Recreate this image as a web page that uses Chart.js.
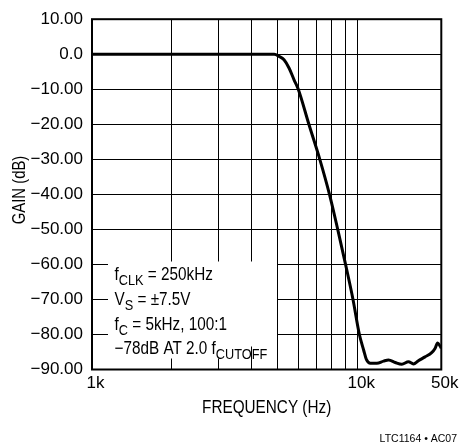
<!DOCTYPE html>
<html>
<head>
<meta charset="utf-8">
<script src="https://cdn.jsdelivr.net/npm/chart.js@4/dist/chart.umd.min.js"></script>
<style>
  html, body { margin: 0; padding: 0; background: #fff; }
  #wrap { width: 459px; height: 448px; position: relative; }
</style>
</head>
<body>
<div id="wrap"><canvas id="c"></canvas></div>
<script>
// ---------- data ----------
const freqHz = [1000, 2540, 4850, 5060, 5280, 5520, 5760, 5975, 6550, 7200, 7830, 8410, 9000, 9600,
  10330, 11220, 11810, 12760, 14470, 16450, 18110, 20590, 23370, 26570, 29240, 32180, 36580, 41520,
  44320, 46580, 48770, 50000];
const gainDb = [0, 0, 0, -0.6, -1.6, -4.0, -7.3, -10, -20, -30, -40, -50, -60, -70,
  -80, -84.5, -87.1, -88.2, -88.2, -87.6, -87.3, -88.0, -88.5, -87.8, -88.4, -87.5, -86.4, -85.2,
  -84.0, -82.4, -83.3, -83.9];

const xTickValues = [1000, 2000, 3000, 4000, 5000, 6000, 7000, 8000, 9000, 10000, 50000];
const xTickLabels = ['1k', '', '', '', '', '', '', '', '', '10k', '50k'];
const yTickValues = [10, 0, -10, -20, -30, -40, -50, -60, -70, -80, -90];
const yTickLabels = ['10.00', '0.0', '\u221210.00', '\u221220.00', '\u221230.00', '\u221240.00',
  '\u221250.00', '\u221260.00', '\u221270.00', '\u221280.00', '\u221290.00'];

const xTitle = 'FREQUENCY (Hz)';
const yTitle = 'GAIN (dB)';
const footnote = 'LTC1164 \u2022 AC07';
const noteLines = [
  [{t: 'f'}, {t: 'CLK', sub: true}, {t: ' = 250kHz'}],
  [{t: 'V'}, {t: 'S', sub: true}, {t: ' = \u00b17.5V'}],
  [{t: 'f'}, {t: 'C', sub: true}, {t: ' = 5kHz, 100:1'}],
  [{t: '\u221278dB AT 2.0 f'}, {t: 'CUTOFF', sub: true}]
];

// ---------- fonts ----------
const REG = '"Liberation Sans", Arial, Helvetica, sans-serif';

// ---------- custom scale: log 1k..10k, compressed log 10k..50k ----------
class BrokenLogScale extends Chart.Scale {
  parse(raw) { return raw === null || raw === undefined ? NaN : +raw; }
  determineDataLimits() {
    this.min = this.options.min;
    this.max = this.options.max;
  }
  buildTicks() { return []; }
  getLabelForValue(v) { return String(v); }
  configure() {
    super.configure();
    this._lmin = Math.log10(this.min);
    this._lmax = Math.log10(this.max);
    this._lbrk = Math.log10(this.options.breakValue);
  }
  _frac(v) {
    const lv = Math.log10(v);
    const bf = this.options.breakFraction;
    if (lv <= this._lbrk) return (lv - this._lmin) / (this._lbrk - this._lmin) * bf;
    return bf + (lv - this._lbrk) / (this._lmax - this._lbrk) * (1 - bf);
  }
  getPixelForValue(v) {
    if (v === null || v === undefined || isNaN(v)) return NaN;
    return this.getPixelForDecimal(this._frac(v));
  }
  getValueForPixel(p) {
    const d = this.getDecimalForPixel(p);
    const bf = this.options.breakFraction;
    const lv = d <= bf ? this._lmin + d / bf * (this._lbrk - this._lmin)
                       : this._lbrk + (d - bf) / (1 - bf) * (this._lmax - this._lbrk);
    return Math.pow(10, lv);
  }
  getPixelForTick(i) { return this.getPixelForValue(this.ticks[i].value); }
}
BrokenLogScale.id = 'brokenLog';
BrokenLogScale.defaults = {};
Chart.register(BrokenLogScale);

// ---------- plugins ----------
const SQUEEZE = 0.85;
function drawRich(ctx, x, y, parts) {
  let cx = x;
  parts.forEach(p => {
    ctx.font = p.sub ? ('15px ' + REG) : ('18px ' + REG);
    ctx.save();
    ctx.translate(cx, p.sub ? y + 5 : y);
    ctx.scale(SQUEEZE, 1);
    ctx.fillText(p.t, 0, 0);
    ctx.restore();
    cx += ctx.measureText(p.t).width * SQUEEZE;
  });
}
function drawSqueezed(ctx, text, x, y, rot) {
  ctx.save();
  ctx.translate(x, y);
  ctx.rotate(rot);
  ctx.scale(SQUEEZE, 1);
  ctx.textAlign = 'center';
  ctx.textBaseline = 'middle';
  ctx.fillText(text, 0, 0);
  ctx.restore();
}

const notePlugin = {
  id: 'note',
  beforeDatasetsDraw(chart) {
    const ctx = chart.ctx;
    ctx.save();
    ctx.fillStyle = '#fff';
    ctx.fillRect(108, 261.5, 169, 85);
    ctx.fillRect(108, 346, 142, 12.5);
    ctx.fillStyle = '#000';
    ctx.textBaseline = 'alphabetic';
    ctx.textAlign = 'left';
    const baselines = [279.5, 304.5, 329.5, 354];
    noteLines.forEach((parts, i) => drawRich(ctx, 114.5, baselines[i], parts));
    ctx.restore();
  },
  afterDraw(chart) {
    const ctx = chart.ctx;
    const a = chart.chartArea;
    ctx.save();
    ctx.strokeStyle = '#000';
    ctx.lineWidth = 2;
    ctx.strokeRect(a.left, a.top, a.right - a.left, a.bottom - a.top);
    ctx.fillStyle = '#000';
    ctx.font = '18px ' + REG;
    drawSqueezed(ctx, xTitle, (a.left + a.right) / 2, 408, 0);
    ctx.font = '17.5px ' + REG;
    drawSqueezed(ctx, yTitle, 20.5, 190, -Math.PI / 2);
    ctx.font = '10.5px ' + REG;
    ctx.textAlign = 'right';
    ctx.textBaseline = 'alphabetic';
    ctx.fillText(footnote, 457, 441.5);
    ctx.restore();
  }
};

// ---------- chart ----------
new Chart(document.getElementById('c'), {
  type: 'line',
  data: {
    datasets: [{
      data: freqHz.map((f, i) => ({x: f, y: gainDb[i]})),
      borderColor: '#000',
      borderWidth: 3,
      pointRadius: 0,
      fill: false,
      cubicInterpolationMode: 'monotone'
    }]
  },
  options: {
    responsive: true,
    maintainAspectRatio: false,
    animation: false,
    layout: { padding: { top: 17.5, right: 16, bottom: 20, left: 0 } },
    plugins: { legend: { display: false }, tooltip: { enabled: false } },
    scales: {
      x: {
        type: 'brokenLog',
        position: 'bottom',
        min: 1000,
        max: 50000,
        breakValue: 10000,
        breakFraction: 0.7607,
        afterBuildTicks: (s) => { s.ticks = xTickValues.map(v => ({value: v})); },
        afterFit: (s) => { s.height = 58.5; },
        grid: { color: '#000', lineWidth: 1, drawTicks: false },
        border: { display: false },
        ticks: {
          autoSkip: false, maxRotation: 0, minRotation: 0,
          padding: 4, labelOffset: 3.5,
          color: '#000',
          font: { family: REG, size: 17 },
          callback: (v, i) => xTickLabels[i]
        },
        title: { display: false }
      },
      y: {
        type: 'linear',
        position: 'left',
        min: -90,
        max: 10,
        afterBuildTicks: (s) => { s.ticks = yTickValues.map(v => ({value: v})); },
        afterFit: (s) => { s.width = 92; },
        grid: { color: '#000', lineWidth: 1, drawTicks: false },
        border: { display: false },
        ticks: {
          padding: 9,
          color: '#000',
          font: { family: REG, size: 17 },
          callback: (v) => yTickLabels[yTickValues.indexOf(v)]
        },
        title: { display: false }
      }
    }
  },
  plugins: [notePlugin]
});
</script>
</body>
</html>
